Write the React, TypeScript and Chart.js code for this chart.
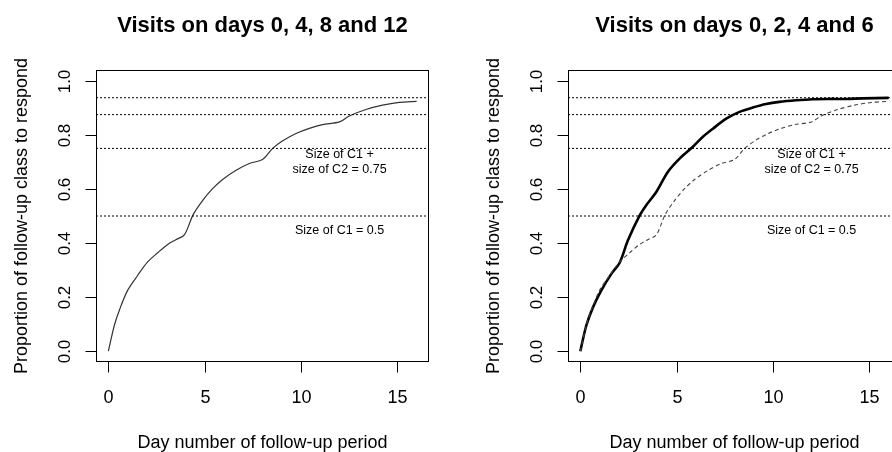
import React, { useEffect, useRef } from "react";
import { Chart, registerables } from "chart.js";

Chart.register(...registerables);

// ---- data ----
const X_MIN = -0.64;
const X_MAX = 16.64;
const Y_MIN = -0.04;
const Y_MAX = 1.04;

const X_TICKS = [0, 5, 10, 15];
const Y_TICKS = [0, 0.2, 0.4, 0.6, 0.8, 1.0];
const Y_TICK_LABELS = ["0.0", "0.2", "0.4", "0.6", "0.8", "1.0"];

const REF_LEVELS = [0.5, 0.75, 0.875, 0.9375];

// Visits on days 0, 4, 8 and 12
const DAYS_A = [0, 0.31, 0.6, 1.0, 1.52, 2.04, 2.56, 3.08, 3.5, 3.95, 4.4, 4.9, 5.41, 5.93, 6.63, 7.32, 8.0, 8.53, 9.05, 9.74, 10.43, 11.12, 12.0, 12.5, 13.37, 14.23, 15.1, 16.0];
const PROP_A = [0, 0.095, 0.157, 0.225, 0.28, 0.33, 0.364, 0.395, 0.412, 0.431, 0.505, 0.558, 0.601, 0.635, 0.669, 0.694, 0.709, 0.75, 0.778, 0.805, 0.824, 0.838, 0.848, 0.87, 0.894, 0.91, 0.92, 0.924];

// Visits on days 0, 2, 4 and 6
const DAYS_B = [0, 0.31, 0.66, 1.09, 1.61, 2.04, 2.47, 3.08, 3.42, 3.94, 4.54, 5.15, 5.84, 6.36, 6.88, 7.57, 8.26, 8.95, 9.64, 10.33, 11.2, 12.06, 12.93, 13.79, 14.65, 16.0];
const PROP_B = [0, 0.095, 0.163, 0.225, 0.286, 0.327, 0.41, 0.502, 0.54, 0.589, 0.663, 0.712, 0.756, 0.793, 0.823, 0.86, 0.885, 0.901, 0.914, 0.922, 0.928, 0.932, 0.933, 0.933, 0.935, 0.937];

const TITLE_A = "Visits on days 0, 4, 8 and 12";
const TITLE_B = "Visits on days 0, 2, 4 and 6";
const X_TITLE = "Day number of follow-up period";
const Y_TITLE = "Proportion of follow-up class to respond";

const NOTE_X = 12;
const NOTE_C1C2 = ["Size of C1 +", "size of C2 = 0.75"];
const NOTE_C1C2_Y = 0.70;
const NOTE_C1 = "Size of C1 = 0.5";
const NOTE_C1_Y = 0.445;

const FONT = "'Liberation Sans', Arial, sans-serif";

const toPts = (xs: number[], ys: number[]) => xs.map((x, i) => ({ x, y: ys[i] }));

const rPlugin = {
  id: "rstyle",
  afterDraw(chart: any) {
    const { ctx, chartArea: a, scales } = chart;
    const xs = scales.x;
    const ys = scales.y;
    const title = chart.options.plugins.rstyle.title;
    ctx.save();
    ctx.strokeStyle = "#000";
    ctx.fillStyle = "#000";
    ctx.lineWidth = 1;
    ctx.setLineDash([]);
    // box
    const L = Math.round(a.left) + 0.5;
    const T = Math.round(a.top) + 0.5;
    const R = Math.round(a.right) - 0.5;
    const B = Math.round(a.bottom) - 0.5;
    ctx.strokeRect(L, T, R - L, B - T);
    // y axis ticks
    ctx.font = `17px ${FONT}`;
    Y_TICKS.forEach((v, i) => {
      const py = Math.round(ys.getPixelForValue(v)) + 0.5;
      ctx.beginPath();
      ctx.moveTo(L - 11, py);
      ctx.lineTo(L, py);
      ctx.stroke();
      ctx.save();
      ctx.translate(a.left - 31, py);
      ctx.rotate(-Math.PI / 2);
      ctx.textAlign = "center";
      ctx.textBaseline = "middle";
      ctx.fillText(Y_TICK_LABELS[i], 0, 0);
      ctx.restore();
    });
    // x axis ticks
    ctx.font = `18px ${FONT}`;
    X_TICKS.forEach((v) => {
      const px = Math.round(xs.getPixelForValue(v)) + 0.5;
      ctx.beginPath();
      ctx.moveTo(px, B);
      ctx.lineTo(px, B + 11);
      ctx.stroke();
      ctx.textAlign = "center";
      ctx.textBaseline = "middle";
      ctx.fillText(String(v), px, a.bottom + 36);
    });
    const cx = (a.left + a.right) / 2;
    const cy = (a.top + a.bottom) / 2;
    // axis titles
    ctx.font = `18px ${FONT}`;
    ctx.textAlign = "center";
    ctx.textBaseline = "middle";
    ctx.fillText(X_TITLE, cx, a.bottom + 81);
    ctx.save();
    ctx.translate(a.left - 74, cy);
    ctx.rotate(-Math.PI / 2);
    ctx.fillText(Y_TITLE, 0, 0);
    ctx.restore();
    // main title
    ctx.font = `bold 22px ${FONT}`;
    ctx.fillText(title, cx, a.top - 44);
    // notes
    ctx.font = `12.5px ${FONT}`;
    const nx = xs.getPixelForValue(NOTE_X);
    const ny = ys.getPixelForValue(NOTE_C1C2_Y);
    ctx.fillText(NOTE_C1C2[0], nx, ny - 7.5);
    ctx.fillText(NOTE_C1C2[1], nx, ny + 7.5);
    ctx.fillText(NOTE_C1, nx, ys.getPixelForValue(NOTE_C1_Y));
    ctx.restore();
  },
};

function refDatasets() {
  return REF_LEVELS.map((lv) => ({
    data: [
      { x: X_MIN, y: lv },
      { x: X_MAX, y: lv },
    ],
    borderColor: "#000",
    borderWidth: 1,
    borderDash: [2, 2],
    pointRadius: 0,
    tension: 0,
    fill: false,
  }));
}

function makeConfig(title: string, lines: any[]) {
  return {
    type: "line",
    data: { datasets: [...refDatasets(), ...lines] },
    options: {
      animation: false,
      responsive: false,
      devicePixelRatio: 1,
      layout: { padding: { left: 96, right: 17, top: 70, bottom: 90 } },
      scales: {
        x: { type: "linear", min: X_MIN, max: X_MAX, display: false },
        y: { type: "linear", min: Y_MIN, max: Y_MAX, display: false },
      },
      plugins: {
        legend: { display: false },
        tooltip: { enabled: false },
        rstyle: { title },
      },
      elements: { point: { radius: 0 } },
    },
    plugins: [rPlugin],
  } as any;
}

function Panel({ left, title, lines }: { left: number; title: string; lines: any[] }) {
  const ref = useRef<HTMLCanvasElement>(null);
  useEffect(() => {
    if (!ref.current) return;
    const chart = new Chart(ref.current, makeConfig(title, lines));
    return () => chart.destroy();
  }, []);
  return (
    <div style={{ position: "absolute", left, top: 0, width: 446, height: 452 }}>
      <canvas ref={ref} width={446} height={452} style={{ display: "block" }} />
    </div>
  );
}

export default function App() {
  const linesA = [
    {
      data: toPts(DAYS_A, PROP_A),
      borderColor: "#333",
      borderWidth: 1.2,
      tension: 0.3,
      pointRadius: 0,
      fill: false,
    },
  ];
  const linesB = [
    {
      data: toPts(DAYS_A, PROP_A),
      borderColor: "#444",
      borderWidth: 1.1,
      borderDash: [4, 3],
      tension: 0.3,
      pointRadius: 0,
      fill: false,
    },
    {
      data: toPts(DAYS_B, PROP_B),
      borderColor: "#000",
      borderWidth: 2.6,
      tension: 0.3,
      pointRadius: 0,
      fill: false,
    },
  ];
  return (
    <div
      style={{
        position: "fixed",
        left: 0,
        top: 0,
        width: 892,
        height: 452,
        overflow: "hidden",
        background: "#fff",
      }}
    >
      <Panel left={0} title={TITLE_A} lines={linesA} />
      <Panel left={472} title={TITLE_B} lines={linesB} />
    </div>
  );
}
